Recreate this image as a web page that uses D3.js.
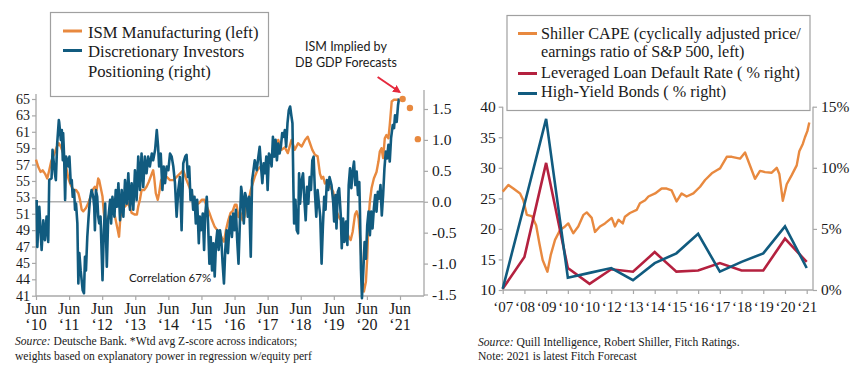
<!DOCTYPE html>
<html><head><meta charset="utf-8">
<script src="https://cdn.jsdelivr.net/npm/d3@7"></script>
<style>
body{margin:0;background:#fff;}
svg{display:block;}
</style></head><body>
<svg id="c" width="858" height="380"></svg>
<script>
// ---------------- LEFT CHART DATA ----------------
const ismSeries = [[2010.42,57.6],[2010.49,56.7],[2010.56,56.1],[2010.62,56.3],[2010.69,55.9],[2010.76,55.3],[2010.82,56.3],[2010.88,57.4],[2010.94,58.0],[2011.00,58.6],[2011.05,59.2],[2011.11,59.6],[2011.17,59.2],[2011.24,58.4],[2011.33,56.7],[2011.40,55.3],[2011.47,54.5],[2011.55,53.9],[2011.63,53.9],[2011.70,53.5],[2011.75,52.7],[2011.80,51.5],[2011.85,51.3],[2011.93,51.7],[2012.00,52.3],[2012.07,53.1],[2012.13,53.9],[2012.20,54.3],[2012.25,53.9],[2012.30,55.3],[2012.33,55.1],[2012.37,54.3],[2012.43,53.1],[2012.47,51.1],[2012.51,49.8],[2012.60,50.6],[2012.71,51.5],[2012.81,50.6],[2012.89,49.0],[2012.93,48.2],[2012.97,50.6],[2013.03,51.5],[2013.11,51.9],[2013.21,52.3],[2013.31,51.1],[2013.41,50.9],[2013.47,50.9],[2013.51,51.9],[2013.56,52.7],[2013.61,53.9],[2013.69,53.9],[2013.76,54.3],[2013.83,54.9],[2013.92,55.9],[2013.96,56.3],[2013.99,55.5],[2014.04,53.5],[2014.10,52.7],[2014.14,53.5],[2014.20,55.1],[2014.27,55.5],[2014.37,55.5],[2014.47,55.1],[2014.57,55.1],[2014.67,55.5],[2014.77,55.9],[2014.87,56.3],[2014.97,55.1],[2015.05,54.3],[2015.12,53.5],[2015.19,52.7],[2015.27,52.1],[2015.35,52.3],[2015.43,52.7],[2015.51,52.7],[2015.58,51.9],[2015.66,51.1],[2015.74,50.2],[2015.82,49.4],[2015.90,49.0],[2015.98,48.6],[2016.06,47.8],[2016.10,47.6],[2016.16,49.0],[2016.23,50.2],[2016.30,51.1],[2016.36,51.3],[2016.43,52.1],[2016.48,52.1],[2016.54,50.6],[2016.60,51.1],[2016.66,50.2],[2016.72,50.6],[2016.79,52.3],[2016.85,52.7],[2016.91,53.9],[2016.97,54.7],[2017.03,55.5],[2017.11,56.3],[2017.19,56.7],[2017.34,56.9],[2017.49,57.8],[2017.64,58.8],[2017.74,60.0],[2017.84,58.8],[2017.94,59.1],[2018.03,58.4],[2018.14,60.0],[2018.24,58.8],[2018.34,59.6],[2018.45,59.2],[2018.55,60.0],[2018.63,60.4],[2018.70,59.6],[2018.77,58.8],[2018.85,58.2],[2018.93,58.0],[2019.00,55.9],[2019.05,55.3],[2019.10,55.5],[2019.15,54.7],[2019.23,54.9],[2019.30,54.3],[2019.40,53.7],[2019.50,51.3],[2019.60,50.4],[2019.70,50.0],[2019.81,48.8],[2019.89,48.0],[2019.93,47.8],[2019.99,48.8],[2020.06,50.9],[2020.11,51.3],[2020.17,50.4],[2020.23,47.2],[2020.28,43.1],[2020.33,41.5],[2020.39,42.7],[2020.43,45.6],[2020.47,50.4],[2020.51,52.5],[2020.56,54.1],[2020.63,55.3],[2020.71,56.1],[2020.77,57.4],[2020.81,58.6],[2020.86,59.0],[2020.91,57.8],[2020.96,60.2],[2021.01,60.6],[2021.07,60.2],[2021.11,61.8],[2021.17,64.7],[2021.23,64.9],[2021.31,64.9],[2021.38,64.9]];
const ismForecast = [[2021.50,65.0],[2021.72,63.9],[2021.96,60.1]];
const positioningSeries = [[2010.44,0.03],[2010.46,-0.73],[2010.52,-0.08],[2010.59,-0.78],[2010.64,-0.30],[2010.69,-0.62],[2010.74,-0.24],[2010.79,-0.65],[2010.82,0.35],[2010.89,0.38],[2010.92,0.84],[2010.96,0.62],[2010.99,0.46],[2011.02,0.35],[2011.06,0.94],[2011.11,1.32],[2011.12,1.29],[2011.17,1.00],[2011.20,1.16],[2011.23,0.67],[2011.24,1.11],[2011.27,0.73],[2011.30,0.03],[2011.33,0.73],[2011.37,0.67],[2011.40,0.57],[2011.43,0.73],[2011.47,0.30],[2011.50,0.35],[2011.53,0.08],[2011.57,0.19],[2011.60,-0.13],[2011.63,-0.03],[2011.67,-0.35],[2011.70,-1.32],[2011.73,-0.83],[2011.77,-1.11],[2011.83,-1.43],[2011.87,-1.48],[2011.90,-0.89],[2011.93,-1.11],[2011.97,-0.57],[2012.01,-0.24],[2012.05,0.03],[2012.10,0.19],[2012.15,0.08],[2012.18,-0.08],[2012.20,-0.46],[2012.23,0.19],[2012.27,0.08],[2012.30,-0.24],[2012.33,-0.35],[2012.37,-0.24],[2012.43,-1.27],[2012.47,-0.46],[2012.51,-0.03],[2012.56,-1.05],[2012.60,-0.30],[2012.66,0.03],[2012.69,-0.35],[2012.73,0.08],[2012.79,-0.24],[2012.83,0.19],[2012.87,-0.08],[2012.91,0.30],[2012.96,-0.30],[2013.01,0.19],[2013.06,-0.24],[2013.11,0.35],[2013.16,-0.03],[2013.21,0.46],[2013.26,-0.13],[2013.31,0.30],[2013.36,-0.13],[2013.41,0.51],[2013.46,0.03],[2013.51,0.73],[2013.56,0.19],[2013.61,0.78],[2013.66,0.24],[2013.71,0.73],[2013.76,0.46],[2013.81,0.73],[2013.86,0.57],[2013.92,0.78],[2013.96,0.67],[2014.02,0.84],[2014.07,1.16],[2014.11,0.89],[2014.14,0.57],[2014.19,0.78],[2014.24,0.19],[2014.28,0.57],[2014.32,0.30],[2014.37,0.57],[2014.42,0.51],[2014.47,0.78],[2014.52,0.73],[2014.57,0.57],[2014.62,0.30],[2014.67,-0.24],[2014.72,0.19],[2014.77,0.40],[2014.82,-0.46],[2014.87,0.62],[2014.93,0.73],[2014.97,0.76],[2015.01,0.40],[2015.05,0.57],[2015.09,0.03],[2015.13,0.19],[2015.17,-0.13],[2015.21,0.08],[2015.25,-0.35],[2015.29,0.03],[2015.34,-0.67],[2015.37,-0.24],[2015.41,-0.46],[2015.46,-0.19],[2015.50,-0.78],[2015.53,-0.24],[2015.58,0.08],[2015.62,-0.35],[2015.66,-1.00],[2015.70,-0.57],[2015.74,-1.11],[2015.78,-0.67],[2015.82,-1.21],[2015.86,-0.67],[2015.90,-0.46],[2015.94,-0.78],[2015.98,-0.46],[2016.02,-0.62],[2016.06,-1.00],[2016.10,-1.32],[2016.14,-0.78],[2016.18,-0.46],[2016.22,-0.83],[2016.26,-0.46],[2016.30,-0.24],[2016.34,-0.57],[2016.38,-0.19],[2016.42,-0.46],[2016.46,-0.13],[2016.50,-0.62],[2016.54,-1.00],[2016.58,-0.35],[2016.62,0.24],[2016.66,0.08],[2016.70,-0.35],[2016.74,0.14],[2016.79,0.03],[2016.82,-0.24],[2016.86,0.08],[2016.91,-0.89],[2016.95,0.35],[2016.98,0.46],[2017.03,0.67],[2017.09,0.51],[2017.14,0.73],[2017.18,0.89],[2017.22,0.57],[2017.26,0.30],[2017.30,0.62],[2017.34,0.46],[2017.38,0.73],[2017.42,0.19],[2017.46,0.78],[2017.50,0.73],[2017.54,0.57],[2017.58,1.05],[2017.62,0.73],[2017.66,1.00],[2017.70,0.67],[2017.74,0.94],[2017.78,0.78],[2017.82,0.89],[2017.86,1.11],[2017.90,1.05],[2017.94,1.16],[2017.98,0.89],[2018.02,1.27],[2018.06,1.48],[2018.10,1.54],[2018.14,1.38],[2018.17,1.27],[2018.20,0.19],[2018.22,-0.35],[2018.26,0.03],[2018.30,-0.46],[2018.34,-0.51],[2018.37,0.46],[2018.40,-0.03],[2018.45,0.35],[2018.49,0.46],[2018.53,0.03],[2018.57,-0.30],[2018.61,0.24],[2018.65,-0.03],[2018.69,0.40],[2018.73,0.19],[2018.77,0.67],[2018.81,0.73],[2018.85,0.14],[2018.89,-0.24],[2018.93,0.19],[2018.97,-0.03],[2019.01,-0.24],[2019.05,-1.00],[2019.09,-0.40],[2019.13,0.08],[2019.17,-0.13],[2019.21,0.35],[2019.25,0.19],[2019.29,0.40],[2019.35,0.27],[2019.40,0.00],[2019.43,-0.32],[2019.47,0.11],[2019.50,-0.43],[2019.54,0.16],[2019.58,0.22],[2019.63,-0.22],[2019.66,-0.75],[2019.70,-0.27],[2019.74,-0.65],[2019.79,-0.32],[2019.83,-0.70],[2019.87,0.27],[2019.91,0.54],[2019.95,0.22],[2019.99,0.49],[2020.03,0.65],[2020.07,0.27],[2020.11,0.49],[2020.15,0.11],[2020.19,0.32],[2020.21,-0.16],[2020.24,-1.08],[2020.27,-1.56],[2020.31,-1.13],[2020.35,-0.65],[2020.39,-0.92],[2020.43,-0.38],[2020.47,-0.16],[2020.51,-0.54],[2020.55,-0.16],[2020.59,-0.43],[2020.63,-0.11],[2020.67,0.11],[2020.71,-0.16],[2020.75,0.16],[2020.79,0.05],[2020.83,0.27],[2020.87,-0.22],[2020.91,0.11],[2020.95,0.54],[2020.99,0.81],[2021.03,0.70],[2021.07,0.92],[2021.11,0.65],[2021.15,1.03],[2021.20,1.24],[2021.24,1.19],[2021.27,1.40],[2021.32,1.29],[2021.36,1.56],[2021.39,1.67]];
const junTicks = [2010.42,2011.42,2012.42,2013.42,2014.42,2015.42,2016.42,2017.42,2018.42,2019.42,2020.42,2021.42];
const junYearLabels = ["\u201810","\u201811","\u201812","\u201813","\u201814","\u201815","\u201816","\u201817","\u201818","\u201819","\u201820","\u201821"];
const ismTicks = [65,63,61,59,57,55,53,51,49,47,45,43,41];
const ismTickLabels = ["65","63","61","59","57","55","53","51","49","47","45","44","41"];
const posTicks = [1.5,1.0,0.5,0.0,-0.5,-1.0,-1.5];
const posTickLabels = ["1.5","1.0","0.5","0.0","-0.5","-1.0","-1.5"];

// ---------------- RIGHT CHART DATA ----------------
const capeSeries = [[2007.00,26.1],[2007.26,27.2],[2007.49,26.6],[2007.80,25.8],[2007.95,24.7],[2008.11,22.3],[2008.34,22.1],[2008.54,20.6],[2008.69,17.6],[2008.84,14.9],[2009.06,13.0],[2009.21,15.7],[2009.41,18.2],[2009.64,19.8],[2009.87,20.4],[2010.02,20.9],[2010.25,19.3],[2010.48,20.4],[2010.72,22.3],[2010.87,22.7],[2011.10,21.8],[2011.25,19.5],[2011.48,20.4],[2011.71,20.9],[2012.02,21.8],[2012.17,20.4],[2012.33,21.5],[2012.53,20.9],[2012.63,22.0],[2012.86,22.6],[2013.17,23.1],[2013.32,24.2],[2013.56,24.7],[2013.71,25.3],[2014.02,25.8],[2014.32,26.6],[2014.55,26.6],[2014.78,26.3],[2015.01,24.5],[2015.24,25.8],[2015.47,25.3],[2015.78,25.8],[2016.09,26.9],[2016.32,28.0],[2016.63,29.1],[2016.86,29.6],[2017.01,29.9],[2017.32,31.8],[2017.55,31.8],[2017.93,31.5],[2018.16,32.5],[2018.62,28.2],[2018.85,29.5],[2019.08,29.3],[2019.39,29.2],[2019.62,30.0],[2019.74,29.0],[2019.90,24.6],[2020.08,27.3],[2020.31,28.8],[2020.54,30.4],[2020.66,32.7],[2020.82,33.9],[2020.92,35.0],[2021.03,36.0],[2021.12,37.4]];
const fitchYears = [2007,2008,2009,2010,2011,2012,2013,2014,2015,2016,2017,2018,2019,2020,2021];
const fitchYearLabels = ["\u201807","\u201808","\u201809","\u201810","\u201810","\u201812","\u201813","\u201814","\u201815","\u201816","\u201817","\u201818","\u201819","\u201820","\u201821"];
const loanDefaultRate = [0.1,2.7,10.4,1.8,0.5,1.7,1.5,3.1,1.5,1.6,2.2,1.6,1.6,4.2,2.3];
const highYieldDefaultRate = [0.1,7.0,14.0,1.0,1.4,1.8,0.8,2.2,3.0,4.6,1.5,2.3,3.0,5.2,1.8];
const capeTicks = [10,15,20,25,30,35,40];
const pctTicks = [0,5,10,15];

// ---------------- STYLE ----------------
const ORANGE = "#E8893F", BLUE = "#115B7F", RED = "#B4213F", AX = "#a8a8a8", TXT = "#1a1a1a";
const SERIF = "'Liberation Serif','Times New Roman',serif";
const SANS = "Lato,'Open Sans',sans-serif";

const svg = d3.select("#c");

// ================= LEFT CHART =================
const xL = d3.scaleLinear().domain([2010.42, 2021.42]).range([36, 400]);
const yIsm = d3.scaleLinear().domain([41, 65]).range([295.7, 99]);
const yPos = d3.scaleLinear().domain([-1.5, 1.5]).range([294.5, 109]);
const L = svg.append("g");

function styleAxis(g){
  g.select(".domain").remove();
  g.selectAll(".tick line").attr("stroke", AX).attr("stroke-width", 1.2);
  g.selectAll(".tick text").attr("fill", TXT).style("font-family", SERIF);
}

// axis lines
L.append("line").attr("x1",36).attr("x2",36).attr("y1",94).attr("y2",296).attr("stroke",AX).attr("stroke-width",1.3);
L.append("line").attr("x1",424).attr("x2",424).attr("y1",90).attr("y2",296).attr("stroke",AX).attr("stroke-width",1.3);
L.append("line").attr("x1",36).attr("x2",424).attr("y1",296).attr("y2",296).attr("stroke",AX).attr("stroke-width",1.3);

L.append("g").attr("transform","translate(36,0)")
  .call(d3.axisLeft(yIsm).tickValues(ismTicks).tickFormat((d,i)=>ismTickLabels[i]).tickSize(4).tickPadding(2))
  .call(styleAxis).selectAll(".tick text").style("font-size","14px");
L.append("g").attr("transform","translate(424,0)")
  .call(d3.axisRight(yPos).tickValues(posTicks).tickFormat((d,i)=>posTickLabels[i]).tickSize(4).tickPadding(4))
  .call(styleAxis).selectAll(".tick text").style("font-size","15.5px");
const xAxL = L.append("g").attr("transform","translate(0,296)")
  .call(d3.axisBottom(xL).tickValues(junTicks).tickFormat("").tickSize(4));
styleAxis(xAxL);
junTicks.forEach((t,i)=>{
  L.append("text").attr("x", xL(t)).attr("y",314).attr("text-anchor","middle")
    .style("font-family",SERIF).style("font-size","16px").attr("fill",TXT).text("Jun");
  L.append("text").attr("x", xL(t)).attr("y",330).attr("text-anchor","middle")
    .style("font-family",SERIF).style("font-size","16px").attr("fill",TXT).text(junYearLabels[i]);
});

// zero line
L.append("line").attr("x1",36).attr("x2",424).attr("y1",yPos(0)).attr("y2",yPos(0)).attr("stroke","#b0b0b0").attr("stroke-width",1.4);

// series
L.append("path").datum(ismSeries).attr("fill","none").attr("stroke",ORANGE).attr("stroke-width",2.4)
  .attr("stroke-linejoin","round").attr("d", d3.line().x(d=>xL(d[0])).y(d=>yIsm(d[1])));
L.append("path").datum(positioningSeries).attr("fill","none").attr("stroke",BLUE).attr("stroke-width",2.6)
  .attr("stroke-linejoin","round").attr("d", d3.line().x(d=>xL(d[0])).y(d=>yPos(d[1])));
L.selectAll("circle.fc").data(ismForecast).join("circle").attr("class","fc")
  .attr("cx",d=>xL(d[0])).attr("cy",d=>yIsm(d[1])).attr("r",3.2).attr("fill",ORANGE);

// annotation
const ax0 = xL(ismForecast[0][0]) - 3, ay0 = yIsm(ismForecast[0][1]) - 7;
svg.append("defs").append("marker").attr("id","ah").attr("viewBox","0 0 10 10").attr("refX",8).attr("refY",5)
  .attr("markerWidth",4).attr("markerHeight",4).attr("orient","auto")
  .append("path").attr("d","M0,0 L10,5 L0,10 z").attr("fill","#E5293D");
L.append("line").attr("x1",ax0-22).attr("y1",ay0-15).attr("x2",ax0).attr("y2",ay0)
  .attr("stroke","#E5293D").attr("stroke-width",2).attr("marker-end","url(#ah)");
L.append("text").attr("x",346).attr("y",51).attr("text-anchor","middle").style("font-family",SANS).style("font-size","12.5px").attr("fill",TXT).text("ISM Implied by");
L.append("text").attr("x",346).attr("y",67).attr("text-anchor","middle").style("font-family",SANS).style("font-size","12.5px").attr("fill",TXT).text("DB GDP Forecasts");
L.append("text").attr("x",129).attr("y",282).style("font-family",SANS).style("font-size","11.5px").attr("fill",TXT).text("Correlation 67%");

// legend
const lg = L.append("g");
lg.append("rect").attr("x",50.5).attr("y",12.5).attr("width",218).attr("height",84).attr("fill","#fff").attr("stroke","#a0a0a0").attr("stroke-width",1.2);
[[ORANGE,31],[BLUE,50.5]].forEach(([c,y])=>lg.append("line").attr("x1",63).attr("x2",82).attr("y1",y).attr("y2",y).attr("stroke",c).attr("stroke-width",3));
[["ISM Manufacturing (left)",37.5],["Discretionary Investors",57],["Positioning (right)",76.5]].forEach(([t,y])=>
  lg.append("text").attr("x",88).attr("y",y).style("font-family",SERIF).style("font-size","16.7px").attr("fill",TXT).text(t));

// source
const s1 = L.append("text").attr("x",15).attr("y",345).style("font-family",SERIF).style("font-size","11.6px").attr("fill",TXT);
s1.append("tspan").style("font-style","italic").text("Source:");
s1.append("tspan").text(" Deutsche Bank. *Wtd avg Z-score across indicators;");
L.append("text").attr("x",15).attr("y",360).style("font-family",SERIF).style("font-size","11.6px").attr("fill",TXT)
  .text("weights based on explanatory power in regression w/equity perf");

// ================= RIGHT CHART =================
const xR = d3.scaleLinear().domain([2007, 2021]).range([502.7, 806.7]);
const yCape = d3.scaleLinear().domain([10, 40]).range([290, 106.7]);
const yPct = d3.scaleLinear().domain([0, 15]).range([290, 106.7]);
const R = svg.append("g");

R.append("line").attr("x1",502.7).attr("x2",502.7).attr("y1",106.7).attr("y2",290).attr("stroke",AX).attr("stroke-width",1.3);
R.append("line").attr("x1",813).attr("x2",813).attr("y1",106.7).attr("y2",290).attr("stroke",AX).attr("stroke-width",1.3);
R.append("line").attr("x1",502.7).attr("x2",813).attr("y1",290).attr("y2",290).attr("stroke",AX).attr("stroke-width",1.3);

R.append("g").attr("transform","translate(502.7,0)")
  .call(d3.axisLeft(yCape).tickValues(capeTicks).tickSize(4).tickPadding(3))
  .call(styleAxis).selectAll(".tick text").style("font-size","15.5px");
R.append("g").attr("transform","translate(813,0)")
  .call(d3.axisRight(yPct).tickValues(pctTicks).tickFormat(d=>d+"%").tickSize(4).tickPadding(4))
  .call(styleAxis).selectAll(".tick text").style("font-size","15.5px");
const xAxR = R.append("g").attr("transform","translate(0,290)")
  .call(d3.axisBottom(xR).tickValues(fitchYears).tickFormat((d,i)=>fitchYearLabels[i]).tickSize(4).tickPadding(7));
styleAxis(xAxR);
xAxR.selectAll(".tick text").style("font-size","15px");

R.append("path").datum(capeSeries).attr("fill","none").attr("stroke",ORANGE).attr("stroke-width",2.4)
  .attr("stroke-linejoin","round").attr("d", d3.line().x(d=>xR(d[0])).y(d=>yCape(d[1])));
R.append("path").datum(fitchYears.map((y,i)=>[y,loanDefaultRate[i]])).attr("fill","none").attr("stroke",RED).attr("stroke-width",2.6)
  .attr("d", d3.line().x(d=>xR(d[0])).y(d=>yPct(d[1])));
R.append("path").datum(fitchYears.map((y,i)=>[y,highYieldDefaultRate[i]])).attr("fill","none").attr("stroke",BLUE).attr("stroke-width",2.6)
  .attr("d", d3.line().x(d=>xR(d[0])).y(d=>yPct(d[1])));

const rg = R.append("g");
rg.append("rect").attr("x",507).attr("y",15.5).attr("width",303).attr("height",95).attr("fill","#fff").attr("stroke","#a0a0a0").attr("stroke-width",1.2);
[[ORANGE,33.5],[RED,73.5],[BLUE,93.5]].forEach(([c,y])=>rg.append("line").attr("x1",518).attr("x2",537).attr("y1",y).attr("y2",y).attr("stroke",c).attr("stroke-width",3));
[["Shiller CAPE (cyclically adjusted price/",38.5],["earnings ratio of S&P 500, left)",57],["Leveraged Loan Default Rate ( % right)",77.5],["High-Yield Bonds ( % right)",97]].forEach(([t,y])=>
  rg.append("text").attr("x",541).attr("y",y).style("font-family",SERIF).style("font-size","16.2px").attr("fill",TXT).text(t));

const s2 = R.append("text").attr("x",478).attr("y",346).style("font-family",SERIF).style("font-size","11.6px").attr("fill",TXT);
s2.append("tspan").style("font-style","italic").text("Source:");
s2.append("tspan").text(" Quill Intelligence, Robert Shiller, Fitch Ratings.");
R.append("text").attr("x",478).attr("y",360).style("font-family",SERIF).style("font-size","11.6px").attr("fill",TXT)
  .text("Note: 2021 is latest Fitch Forecast");
</script>
</body></html>
